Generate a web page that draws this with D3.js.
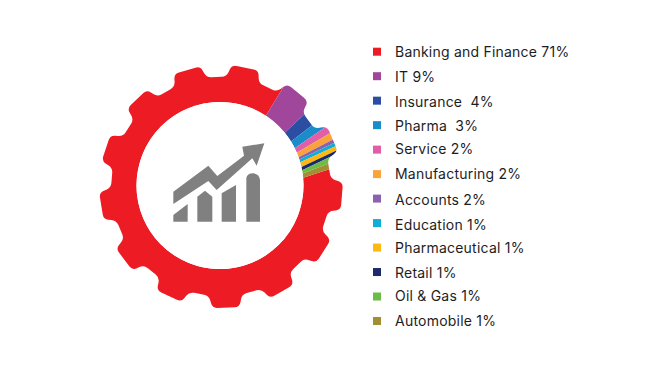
<!DOCTYPE html>
<html>
<head>
<meta charset="utf-8">
<script src="https://cdn.jsdelivr.net/npm/d3@7"></script>
<style>
  body { margin: 0; background: #fff; }
  text { font-family: Inter, "Open Sans", sans-serif; font-size: 14px; font-weight: 400; letter-spacing: 0.22px; fill: #1d1d1f; }
</style>
</head>
<body>
<script>
const width = 650;
const height = 373;

var sectors = ["Banking and Finance", "IT", "Insurance", "Pharma", "Service", "Manufacturing", "Accounts", "Education", "Pharmaceutical", "Retail", "Oil & Gas", "Automobile"];
var labels = ["Banking and Finance 71%", "IT 9%", "Insurance  4%", "Pharma  3%", "Service 2%", "Manufacturing 2%", "Accounts 2%", "Education 1%", "Pharmaceutical 1%", "Retail 1%", "Oil & Gas 1%", "Automobile 1%"];
var colors = ["#ed1c24", "#a0479b", "#2b4ea2", "#1b8cca", "#e05fa8", "#f9a33a", "#8a62b0", "#11add6", "#fdb813", "#1b2a6e", "#6cbd45", "#a38f33"];

// degrees each band takes up round the ring
// (the bands lean, so the inner and outer edge differ)
var sweepInner = [308.7, 17.6, 7.4, 5.2, 3.4, 3.4, 1.6, 1.9, 3.4, 2.3, 2.3, 2.8];
var sweepOuter = [312.4, 16.8, 6.8, 4.5, 3.6, 3.3, 1.7, 1.7, 1.8, 1.4, 3.1, 2.9];

// the legend rows are not quite evenly spaced in the original
var labelNudge = [0, 1.3, 1.3, 0.7, -0.5, 0, 1.5, 1.5, 0.7, 0.7, -0.5, 0];

const cx = 220, cy = 185.5;
const gearCx = 221, gearCy = 186.5;
const holeR = 83.5, valleyR = 110, tipR = 122;
const teeth = 13, toothStart = 11.5;

var rad = d3.scaleLinear().domain([0, 360]).range([0, 2 * Math.PI]);

var svg = d3.select("body")
    .append("svg")
    .attr("width", width)
    .attr("height", height);

// gear outline, corners rounded off
function polar(deg, r) {
    var a = rad(deg);
    return [Math.sin(a) * r + gearCx - cx, -Math.cos(a) * r + gearCy - cy];
}

var corners = [];
d3.range(teeth).forEach(function(i) {
    var c = toothStart + i * 360 / teeth;
    corners.push(polar(c - 8.6, valleyR));
    corners.push(polar(c - 6.4, tipR));
    corners.push(polar(c + 6.4, tipR));
    corners.push(polar(c + 8.6, valleyR));
});

function roundedPath(pts, r) {
    var p = d3.path();
    pts.forEach(function(pt, i) {
        var prev = pts[(i + pts.length - 1) % pts.length];
        var next = pts[(i + 1) % pts.length];
        var a = towards(pt, prev, r), b = towards(pt, next, r);
        if (i === 0) p.moveTo(a[0], a[1]); else p.lineTo(a[0], a[1]);
        p.quadraticCurveTo(pt[0], pt[1], b[0], b[1]);
    });
    p.closePath();
    return p.toString();
}

function towards(from, to, r) {
    var d = Math.hypot(to[0] - from[0], to[1] - from[1]);
    var t = Math.min(r / d, 0.5);
    return [from[0] + (to[0] - from[0]) * t, from[1] + (to[1] - from[1]) * t];
}

svg.append("clipPath")
    .attr("id", "gear")
    .append("path")
    .attr("d", roundedPath(corners, 5));

var pie = d3.pie().sort(null).startAngle(rad(84.6)).endAngle(rad(444.6));
var pieOuter = d3.pie().sort(null).startAngle(rad(80.2)).endAngle(rad(440.2));
var inner = pie(sweepInner);
var outer = pieOuter(sweepOuter);

function band(i) {
    var r0 = holeR, r1 = tipR + 6;
    var p = d3.path();
    var off = -Math.PI / 2;
    p.arc(0, 0, r1, outer[i].startAngle + off, outer[i].endAngle + off);
    p.arc(0, 0, r0, inner[i].endAngle + off, inner[i].startAngle + off, true);
    p.closePath();
    return p.toString();
}

var ring = svg.append("g")
    .attr("transform", "translate(" + cx + "," + cy + ")")
    .attr("clip-path", "url(#gear)");

ring.selectAll("path")
    .data(sectors)
    .enter()
    .append("path")
    .attr("d", function(d, i) { return band(i); })
    .style("fill", function(d, i) { return colors[i]; });

svg.append("circle")
    .attr("cx", cx)
    .attr("cy", cy)
    .attr("r", holeR)
    .style("fill", "#fff");

// growth icon in the hole
var icon = svg.append("g")
    .attr("transform", "translate(160,130) scale(0.3333)")
    .style("fill", "#808080");

icon.append("path").attr("d", "M40,185L145,107L172,138L252,77L247,50L313,40L290,107L277,85L170,180L145,153L40,222Z");
icon.append("path").attr("d", "M40,255L83,222L83,275L40,275Z");
icon.append("path").attr("d", "M112,200L135,182L157,200L157,275L112,275Z");
icon.append("path").attr("d", "M185,190L228,165L228,275L185,275Z");
icon.append("path").attr("d", "M259,275L259,145Q261,130 280,130Q298,132 300,150L300,275Z");

// legend
var y = d3.scalePoint()
    .domain(sectors)
    .range([51.7, 321]);

var rows = svg.selectAll("g.row")
    .data(sectors)
    .enter()
    .append("g")
    .attr("class", "row")
    .attr("transform", function(d) { return "translate(0," + y(d) + ")"; });

rows.append("rect")
    .attr("x", 373)
    .attr("y", -4)
    .attr("width", 8)
    .attr("height", 8)
    .style("fill", function(d, i) { return colors[i]; });

rows.append("text")
    .attr("x", 395)
    .attr("y", function(d, i) { return 5 + labelNudge[i]; })
    .style("white-space", "pre")
    .text(function(d, i) { return labels[i]; });
</script>
</body>
</html>
